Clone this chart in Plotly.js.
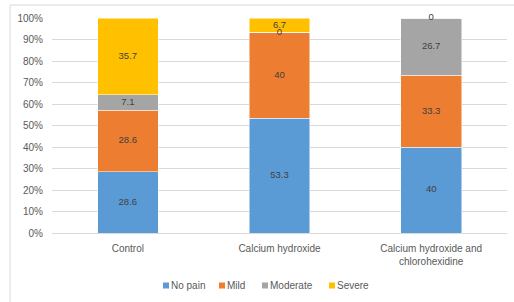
<!DOCTYPE html>
<html><head><meta charset="utf-8">
<script src="https://cdn.plot.ly/plotly-3.0.1.min.js"></script>
<style>html,body{margin:0;padding:0;background:#fff;}#chart{width:514px;height:302px;}</style>
</head><body><div id="chart"></div>
<script>
const categories = ["Control", "Calcium hydroxide", "Calcium hydroxide and<br>chlorohexidine"];
const seriesNames = ["No pain", "Mild", "Moderate", "Severe"];
const noPain = [28.6, 53.3, 40];
const mild = [28.6, 40, 33.3];
const moderate = [7.1, 0, 26.7];
const severe = [35.7, 6.7, 0];
const colors = ["#5B9BD5", "#ED7D31", "#A5A5A5", "#FFC000"];
const tickVals = [0,10,20,30,40,50,60,70,80,90,100];

const FONT = 'Liberation Sans, Arial, sans-serif';
const series = [noPain, mild, moderate, severe];
const traces = series.map((vals, i) => ({
  type: 'bar', name: seriesNames[i], x: categories, y: vals,
  marker: {color: colors[i], line: {color: '#ffffff', width: 0.5}},
  hoverinfo: 'none', showlegend: false
}));

// label positions: middle of each stacked segment
const lx = [], ly = [], lt = [];
categories.forEach((c, ci) => {
  let base = 0;
  series.forEach(vals => {
    const v = vals[ci];
    lx.push(c); ly.push(base + v / 2); lt.push(String(v));
    base += v;
  });
});
traces.push({type: 'scatter', mode: 'text', x: lx, y: ly, text: lt,
  textfont: {family: FONT, size: 9.5, color: '#404040'},
  showlegend: false, hoverinfo: 'none', cliponaxis: false});

// custom compact legend (Excel style), in paper coordinates
const L = 52, R = 507, T = 18, B = 233;
const px = x => (x - L) / (R - L);
const py = y => (B - y) / (B - T);
const legendX = [163, 219, 262, 329];
const shapes = [{type: 'rect', xref: 'paper', yref: 'paper', x0: px(10), x1: px(520), y0: py(310), y1: py(5),
  line: {color: '#d9d9d9', width: 1}, fillcolor: 'rgba(0,0,0,0)', layer: 'below'}];
const annotations = [];
seriesNames.forEach((n, i) => {
  shapes.push({type: 'rect', xref: 'paper', yref: 'paper', x0: px(legendX[i]), x1: px(legendX[i] + 6),
    y0: py(288.5), y1: py(282.5), fillcolor: colors[i], line: {width: 0}});
  annotations.push({xref: 'paper', yref: 'paper', x: px(legendX[i] + 7), y: py(285.5), xanchor: 'left', yanchor: 'middle',
    text: n, showarrow: false, font: {family: FONT, size: 10, color: '#595959'}, borderpad: 0});
});

const layout = {
  width: 514, height: 302,
  margin: {l: L, r: 514 - R, t: T, b: 302 - B},
  barmode: 'stack', bargap: 0.6,
  paper_bgcolor: '#ffffff', plot_bgcolor: '#ffffff',
  font: {family: FONT, size: 10, color: '#595959'},
  xaxis: {showgrid: false, showline: false, zeroline: false, ticks: '', ticklabelstandoff: 8,
    tickfont: {size: 10, color: '#595959'}},
  yaxis: {range: [0, 100], tickvals: tickVals, ticktext: tickVals.map(v => v + '%'),
    showgrid: true, gridcolor: '#d9d9d9', gridwidth: 1, zeroline: true, zerolinecolor: '#d9d9d9',
    showline: false, ticks: '', ticklabelstandoff: 8, tickfont: {size: 10, color: '#595959'}},
  shapes: shapes, annotations: annotations,
  showlegend: false
};
Plotly.newPlot('chart', traces, layout, {displayModeBar: false, staticPlot: true});
</script></body></html>
